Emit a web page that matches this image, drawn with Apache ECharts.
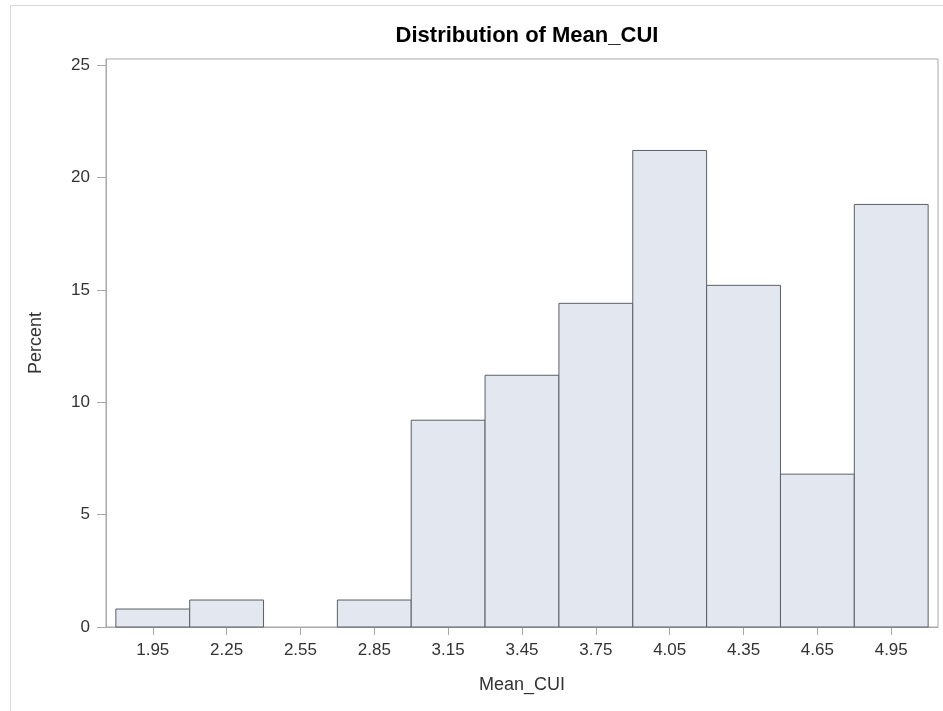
<!DOCTYPE html>
<html>
<head>
<meta charset="utf-8">
<script src="https://cdn.jsdelivr.net/npm/echarts@6/dist/echarts.min.js"></script>
<style>
html,body{margin:0;padding:0;background:#fff;}
#chart{width:943px;height:711px;}
</style>
</head>
<body>
<div id="chart"></div>
<script>
// Histogram bin midpoints (Mean_CUI) and percent in each bin
var binMidpoints = [1.95, 2.25, 2.55, 2.85, 3.15, 3.45, 3.75, 4.05, 4.35, 4.65, 4.95];
var percentValues = [0.8, 1.2, 0, 1.2, 9.2, 11.2, 14.4, 21.2, 15.2, 6.8, 18.8];
var binWidth = 0.3;
var xTickLabels = [1.95, 2.25, 2.55, 2.85, 3.15, 3.45, 3.75, 4.05, 4.35, 4.65, 4.95];
var yTickLabels = [0, 5, 10, 15, 20, 25];

var data = binMidpoints.map(function (m, i) { return [m, percentValues[i]]; });

var chart = echarts.init(document.getElementById('chart'), null, {renderer: 'canvas'});
var axisColor = '#a8a8a8';
var textColor = '#333333';
var font = 'Liberation Sans, Arial, sans-serif';

chart.setOption({
  backgroundColor: '#ffffff',
  animation: false,
  title: {
    text: 'Distribution of Mean_CUI',
    left: 522,
    textAlign: 'center',
    top: 20,
    textStyle: {fontFamily: font, fontWeight: 'bold', fontSize: 22, color: '#000'}
  },
  graphic: [{
    type: 'rect',
    shape: {x: 10.5, y: 5.5, width: 960, height: 760},
    style: {fill: 'none', stroke: '#d8d8d8', lineWidth: 1},
    silent: true
  }],
  grid: {left: 106, top: 59, right: 5, bottom: 84, show: true, borderColor: axisColor, borderWidth: 1, backgroundColor: 'transparent'},
  xAxis: {
    type: 'value',
    min: 1.76,
    max: 5.14,
    name: 'Mean_CUI',
    nameLocation: 'middle',
    nameGap: 49,
    nameTextStyle: {fontFamily: font, fontSize: 18, color: textColor},
    axisLine: {show: true, lineStyle: {color: axisColor}},
    axisTick: {show: true, length: 8, lineStyle: {color: axisColor}, customValues: xTickLabels},
    axisLabel: {fontFamily: font, fontSize: 17, color: textColor, margin: 15, customValues: xTickLabels,
      formatter: function (v) { return v.toFixed(2); }},
    splitLine: {show: false}
  },
  yAxis: {
    type: 'value',
    min: 0,
    max: 25.27,
    name: 'Percent',
    nameLocation: 'middle',
    nameGap: 61,
    nameTextStyle: {fontFamily: font, fontSize: 18, color: textColor},
    axisLine: {show: true, lineStyle: {color: axisColor}},
    axisTick: {show: true, length: 9, lineStyle: {color: axisColor}, customValues: yTickLabels},
    axisLabel: {fontFamily: font, fontSize: 17, color: textColor, margin: 16, customValues: yTickLabels},
    splitLine: {show: false}
  },
  series: [{
    type: 'custom',
    data: data,
    encode: {x: 0, y: 1},
    renderItem: function (params, api) {
      var m = api.value(0), v = api.value(1);
      if (!v) return null;
      var p1 = api.coord([m - binWidth / 2, v]);
      var p2 = api.coord([m + binWidth / 2, 0]);
      return {
        type: 'rect',
        shape: {x: p1[0], y: p1[1], width: p2[0] - p1[0], height: p2[1] - p1[1]},
        style: {fill: '#e3e7f0', stroke: '#5a5f67', lineWidth: 1}
      };
    }
  }]
});
</script>
</body>
</html>
